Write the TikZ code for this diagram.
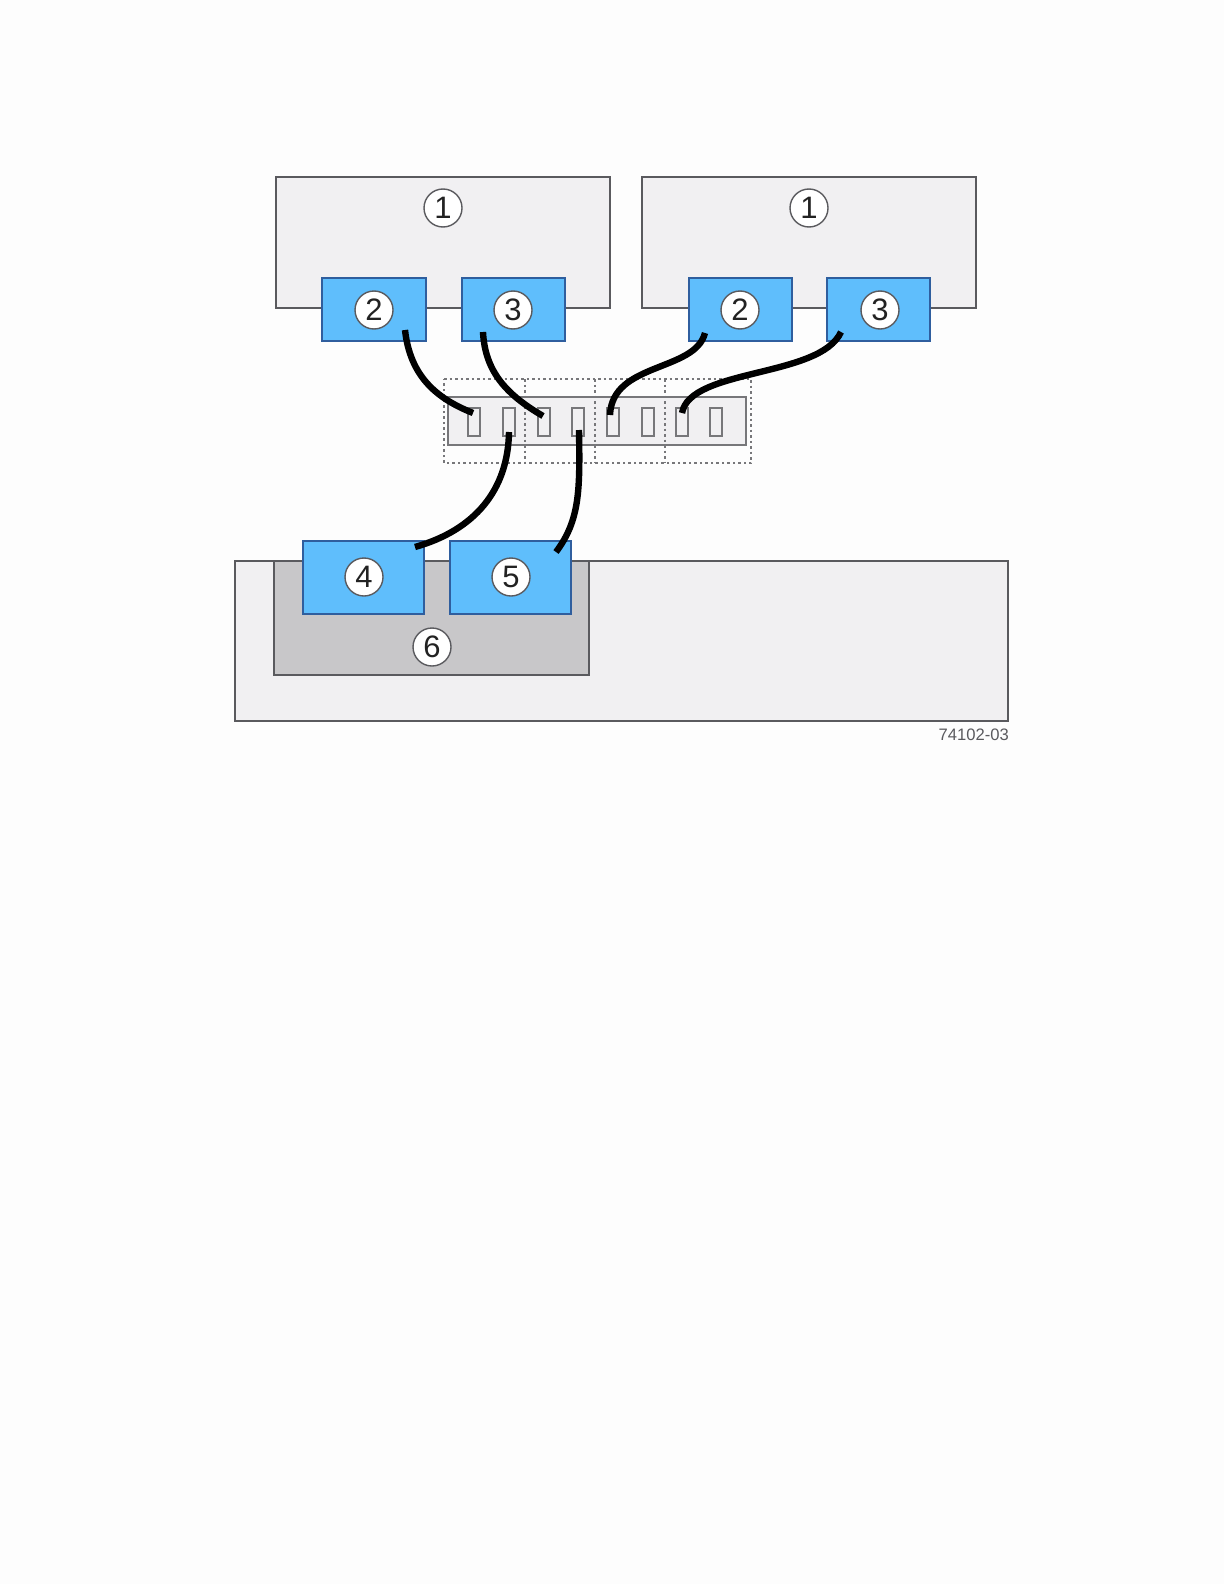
\documentclass[tikz,border=0pt]{standalone}
\usepackage{fontspec}
\setmainfont{Liberation Sans}
\definecolor{pagebg}{HTML}{FDFDFD}
\definecolor{panel}{HTML}{F1F0F2}
\definecolor{panelline}{HTML}{5A5A5E}
\definecolor{switchline}{HTML}{77777A}
\definecolor{bluefill}{HTML}{5FBEFC}
\definecolor{blueline}{HTML}{2F5E9E}
\definecolor{greyfill}{HTML}{C8C7C9}
\definecolor{inkc}{HTML}{222222}
\tikzset{
  x=1pt,y=-1pt,
  box/.style={draw=panelline,fill=panel,line width=1.4pt,rectangle,inner sep=0pt,outer sep=0pt,anchor=north west},
  switchbox/.style={draw=switchline,fill=panel,line width=2pt,rectangle,inner sep=0pt,outer sep=0pt,anchor=north west},
  carrier/.style={draw=panelline,fill=greyfill,line width=1.4pt,rectangle,inner sep=0pt,outer sep=0pt,anchor=north west},
  hba/.style={draw=blueline,fill=bluefill,line width=1.4pt,rectangle,inner sep=0pt,outer sep=0pt,anchor=north west},
  num/.style={circle,draw=panelline,fill=white,line width=1.4pt,minimum size=38pt,inner sep=0pt,font=\fontsize{31}{31}\selectfont,text=inkc},
  portbox/.style={draw=switchline,fill=panel,line width=2pt,rectangle,inner sep=0pt,outer sep=0pt,minimum width=12pt,minimum height=28pt},
  zone/.style={rectangle,inner sep=0pt,outer sep=0pt,anchor=north west},
  zoneline/.style={draw=switchline,line width=1.5pt,dash pattern=on 2.5pt off 3pt},
  cable/.style={draw=black,line width=6.4pt,line cap=butt},
}
\begin{document}
\begin{tikzpicture}
\useasboundingbox (0,0) rectangle (1224,1584);
\fill[pagebg] (0,0) rectangle (1224,1584);

% controllers
\node[box,minimum width=334pt,minimum height=131pt] (ctlA) at (276,177) {};
\node[box,minimum width=334pt,minimum height=131pt] (ctlB) at (642,177) {};
\node[hba,minimum width=104pt,minimum height=63pt] (a2) at (322,278) {};
\node[hba,minimum width=103pt,minimum height=63pt] (a3) at (462,278) {};
\node[hba,minimum width=103pt,minimum height=63pt] (b2) at (689,278) {};
\node[hba,minimum width=103pt,minimum height=63pt] (b3) at (827,278) {};
\node[num] (n1a) at (443,208) {1};
\node[num] (n1b) at (809,208) {1};
\node[num] (n2a) at (374,310) {2};
\node[num] (n3a) at (513,310) {3};
\node[num] (n2b) at (740,310) {2};
\node[num] (n3b) at (880,310) {3};

% switch
\node[switchbox,minimum width=298pt,minimum height=48pt] (sw) at (448,397) {};
\foreach \n/\px in {1/474,2/509,3/544,4/578,5/613,6/648,7/682,8/716}
  \node[portbox] (p\n) at (\px,421.5) {};
\node[zone,minimum width=81pt,minimum height=84pt] (z1) at (444,379) {};
\node[zone,minimum width=70pt,minimum height=84pt] (z2) at (525,379) {};
\node[zone,minimum width=70pt,minimum height=84pt] (z3) at (595,379) {};
\node[zone,minimum width=86pt,minimum height=84pt] (z4) at (665,379) {};
\draw[zoneline] (z1.north west) -- (z4.north east) -- (z4.south east) -- (z1.south west) -- cycle;
\draw[zoneline] (z2.north west) -- (z2.south west);
\draw[zoneline] (z3.north west) -- (z3.south west);
\draw[zoneline] (z4.north west) -- (z4.south west);

% array
\node[box,minimum width=773pt,minimum height=160pt] (array) at (235,561) {};
\node[carrier,minimum width=315pt,minimum height=114pt] (tray) at (274,561) {};
\node[hba,minimum width=121pt,minimum height=73pt] (h4) at (303,541) {};
\node[hba,minimum width=121pt,minimum height=73pt] (h5) at (450,541) {};
\node[num] (n4) at (364,577) {4};
\node[num] (n5) at (511,577) {5};
\node[num] (n6) at (432,647) {6};

\node[anchor=east,inner sep=0pt,font=\fontsize{16.6}{16.6}\selectfont,text=panelline] (tag) at (1009,735) {74102-03};

% cable end points
\coordinate (ca) at (405,330);
\coordinate (cae) at (473,413);
\coordinate (cb) at (483,332);
\coordinate (cbe) at (543,416);
\coordinate (cc) at (705,333);
\coordinate (cce) at (610,415);
\coordinate (cd) at (841,332);
\coordinate (cde) at (682,413);
\coordinate (ce) at (509,432);
\coordinate (cee) at (415,547);
\coordinate (cf) at (579,430);
\coordinate (cfe) at (556,552);

\draw[cable] (ca) .. controls (410,375) and (435,398) .. (cae);
\draw[cable] (cb) .. controls (485,372) and (507,395) .. (cbe);
\draw[cable] (cc) .. controls (695,372) and (612,362) .. (cce);
\draw[cable] (cd) .. controls (820,378) and (690,368) .. (cde);
\draw[cable] (ce) .. controls (508,490) and (475,530) .. (cee);
\draw[cable] (cf) .. controls (580,490) and (580,520) .. (cfe);
\end{tikzpicture}
\end{document}
